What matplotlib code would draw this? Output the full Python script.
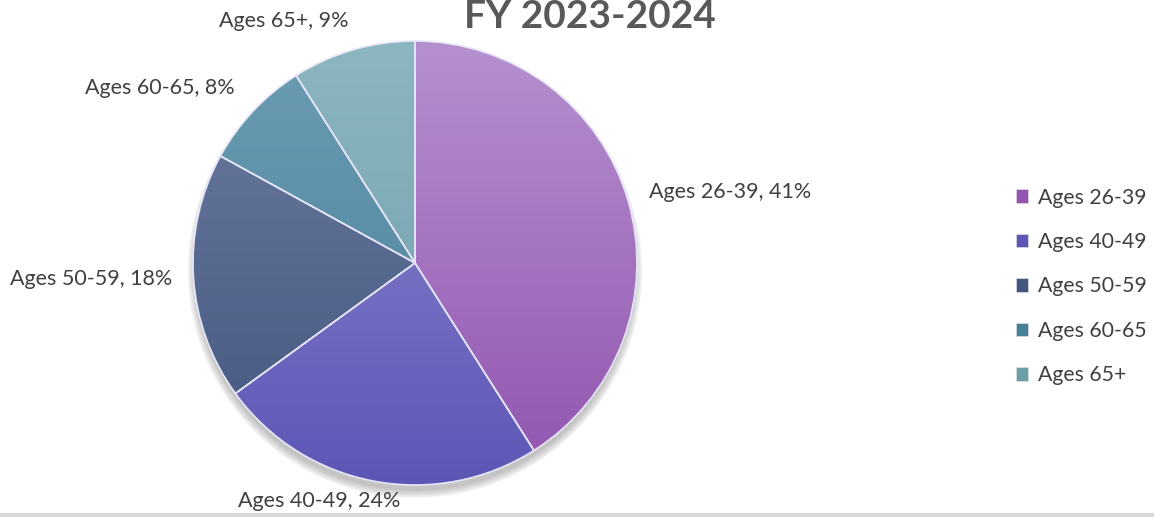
import numpy as np
import matplotlib.pyplot as plt
from matplotlib.colors import LinearSegmentedColormap
from matplotlib.patches import Circle

# Data
categories = ["Ages 26-39", "Ages 40-49", "Ages 50-59", "Ages 60-65", "Ages 65+"]
shares = [41, 24, 18, 8, 9]
title_text = "FY 2023-2024"

# Styles (top / bottom of the gradient for each slice)
top_colors = ["#B590CE", "#8F8AD2", "#6C7CA2", "#6C9CB4", "#8CB6C0"]
bottom_colors = ["#9254B0", "#5D56B6", "#44567E", "#468098", "#6C9EA8"]
# label offsets in units of pie radius
label_pos = [(1.42, 0.32), (-0.43, -1.07), (-1.46, -0.07), (-1.15, 0.79), (-0.59, 1.09)]

plt.rcParams['font.family'] = ['Lato', 'DejaVu Sans']
text_color = "#404040"

fig = plt.figure(figsize=(11.54, 5.17), dpi=100)
W, H = 1154, 517
cx, cy, r = 415, 263, 222
ax = fig.add_axes([(cx - r) / W, (H - cy - r) / H, 2 * r / W, 2 * r / H])

# soft shadow under the pie
for i in range(10):
    sh = Circle((0.0, -0.035), 0.985 + 0.004 * i, color="black", alpha=0.025, zorder=0,
                clip_on=False)
    ax.add_patch(sh)

wedges, _ = ax.pie(shares, startangle=90, counterclock=False, radius=1.0,
                   colors=bottom_colors,
                   wedgeprops=dict(edgecolor="#E6E6F8", linewidth=1.2))

grad = np.linspace(1, 0, 256).reshape(-1, 1)
for w, c_top, c_bot in zip(wedges, top_colors, bottom_colors):
    cmap = LinearSegmentedColormap.from_list("g", [c_bot, c_top])
    im = ax.imshow(grad, extent=(-1, 1, -1, 1), cmap=cmap, aspect='auto',
                   origin='upper', zorder=2, vmin=0, vmax=1)
    im.set_clip_path(w)
    w.set_zorder(3)
    w.set_facecolor("none")
ax.set_xlim(-1, 1)
ax.set_ylim(-1, 1)
ax.set_aspect('equal')
ax.axis('off')

for cat, val, (lx, ly) in zip(categories, shares, label_pos):
    ax.text(lx, ly, "{0}, {1}%".format(cat, val), ha='center', va='center',
            fontsize=15.5, color=text_color, clip_on=False)

fig.text(590 / W, 1 - 28 / H, title_text, ha='center', va='baseline', fontsize=28,
         fontweight='bold', color="#595959")

# legend
handles = [plt.Rectangle((0, 0), 1, 1, facecolor=c, edgecolor="#DDDDDD", linewidth=0.5)
           for c in bottom_colors]
fig.legend(handles, categories, loc='upper left', bbox_to_anchor=(1005 / W, 1 - 177 / H),
           frameon=False, fontsize=15.3, labelcolor=text_color, handlelength=0.6,
           handleheight=0.6, handletextpad=0.45, labelspacing=1.15, borderpad=0)

# thin grey strip at the bottom
fig.add_artist(plt.Line2D([0, 1], [2 / H, 2 / H], transform=fig.transFigure,
                          color="#D9D9D9", linewidth=3))

fig.savefig("out.png", dpi=100)
